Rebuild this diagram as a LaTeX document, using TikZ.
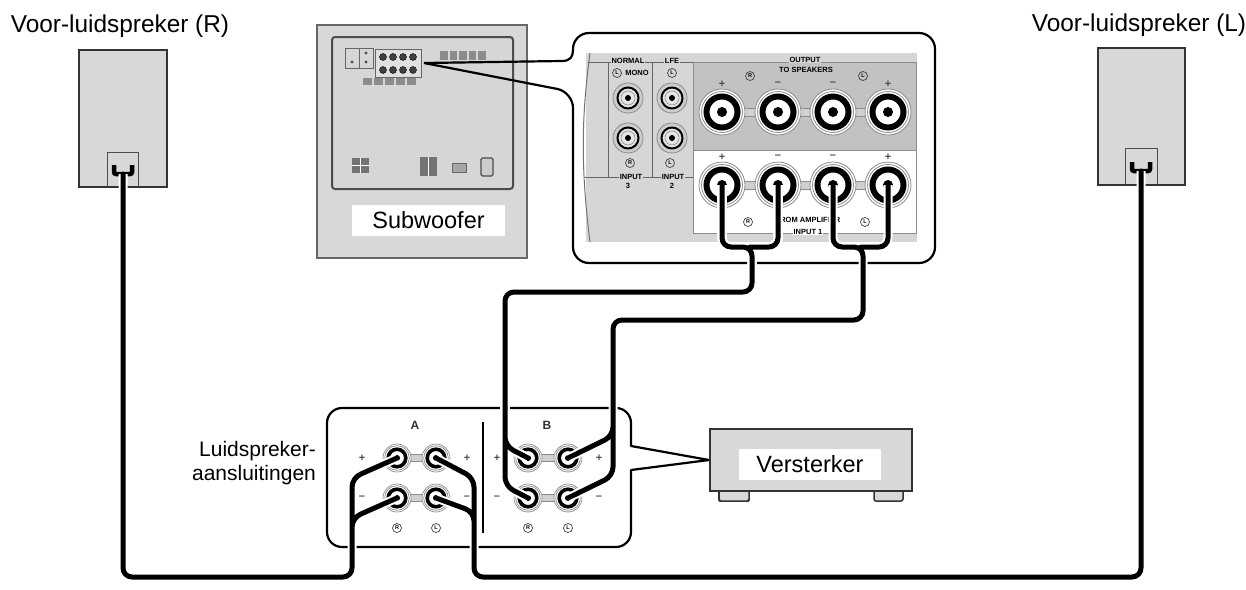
\documentclass[tikz,border=0pt]{standalone}
\usepackage{fontspec}
\setmainfont{Liberation Sans}
\usetikzlibrary{positioning}
\definecolor{boxgray}{HTML}{D8D8D8}
\definecolor{panelgray}{HTML}{D6D6D6}
\definecolor{ringgray}{HTML}{8C8C8C}
\tikzset{
  cable/.style={line width=5pt,line cap=round,line join=round,rounded corners=9pt,
    preaction={draw=white,line width=9pt}},
  callout/.style={line width=2.2pt,line join=round},
  unitbox/.style={draw=black!80,fill=boxgray,line width=1.8pt,inner sep=0pt},
  labelbox/.style={fill=white,inner sep=0pt,minimum height=31pt,font=\fontsize{23.5}{24}\selectfont},
  biglbl/.style={inner sep=0pt,font=\fontsize{24.4}{26}\selectfont},
  tinytxt/.style={inner sep=0.8pt,font=\fontsize{7.5}{7.5}\selectfont\bfseries},
  sign/.style={inner sep=0pt,text=black!70,font=\fontsize{11}{11}\selectfont\bfseries},
  ch/.style={circle,draw=black!75,line width=0.7pt,inner sep=0pt,minimum size=9pt,
    font=\fontsize{5.5}{5.5}\selectfont\bfseries}
}
\newcommand\bigpost[1]{%
  \fill[white] (#1) circle (23pt);
  \draw[ringgray,line width=0.8pt] (#1) circle (23pt) (#1) circle (20.5pt);
  \draw[line width=6pt] (#1) circle (15.5pt);
  \fill (#1) circle (5pt);}
\newcommand\smallpost[1]{%
  \fill[white] (#1) circle (14pt);
  \draw[ringgray,line width=0.7pt] (#1) circle (14pt) (#1) circle (12.3pt);
  \draw[line width=3.6pt] (#1) circle (8.8pt);
  \fill (#1) circle (3pt);}
\newcommand\jack[1]{%
  \draw[ringgray,fill=black!20,line width=0.8pt] (#1) circle (15pt);
  \draw[line width=2pt,fill=black!10] (#1) circle (10.5pt);
  \draw[ringgray,line width=0.6pt] (#1) circle (7pt);
  \fill (#1) circle (3pt);}
\begin{document}
\begin{tikzpicture}[x=1pt,y=-1pt]
  \useasboundingbox (0,0) rectangle (1246,589);
  % speakers
  \node[unitbox,minimum width=88pt,minimum height=137pt] (spkR) at (123,118.5) {};
  \node[unitbox,minimum width=87pt,minimum height=137pt] (spkL) at (1141.5,116.5) {};
  \node[biglbl,anchor=base] at (120,32) {Voor-luidspreker (R)};
  \node[biglbl,anchor=base] at (1139,31) {Voor-luidspreker (L)};
  \draw[black!70,line width=0.8pt] (107,187) |- (138,152) -- (138,187);
  \draw[black!70,line width=0.8pt] (1125,185) |- (1157,148) -- (1157,185);
  \coordinate (tR) at (123,174);
  \coordinate (tL) at (1141,171);
  \draw[line width=4.5pt,rounded corners=2pt] (114,165) -- (114,174) -- (132,174) -- (132,165);
  \draw[line width=4.5pt,rounded corners=2pt] (1132,162) -- (1132,171) -- (1150,171) -- (1150,162);
  % subwoofer
  \node[draw=black!60,fill=boxgray,line width=1.5pt,minimum width=210pt,minimum height=233pt] (sub) at (422,141.5) {};
  \draw[black!70,fill=panelgray,line width=2pt,rounded corners=3pt] (332,37) rectangle (513,189);
  \node[labelbox,minimum width=153pt] (sublbl) at (428.5,220.5) {Subwoofer};
  \draw[black!60,line width=0.6pt] (345,48) rectangle (373,68) (359,48) -- (359,68);
  \foreach \x in {352,366} \fill[black!70] (\x,62) circle (1.6pt);
  \fill[black!70] (366,53) circle (1.6pt);
  \draw[black!60,fill=black!12,line width=0.6pt] (375,49) rectangle (421,77);
  \foreach \x in {383,393,403,413} {
    \draw[fill=black!75] (\x,57) circle (3.5pt);
    \draw[fill=black!75] (\x,70) circle (3.5pt);}
  \foreach \x in {363,374,385,396,407} \fill[black!45] (\x,78) rectangle ++(9,7);
  \foreach \x in {440,449.5,459,468.5,478} \fill[black!45] (\x,51) rectangle ++(7.5,9);
  \fill[black!55] (352,158) rectangle (369,173);
  \draw[white,line width=0.8pt] (352,165.5) -- (369,165.5) (360.5,158) -- (360.5,173);
  \fill[black!55] (420,157) rectangle (437,176);
  \draw[white,line width=0.8pt] (428.5,157) -- (428.5,176);
  \draw[black!60,fill=black!35,line width=0.8pt] (452,163) rectangle (466,172);
  \draw[black!70,fill=black!20,line width=1.2pt,rounded corners=1.5pt] (481,158) rectangle (493,176);
  \coordinate (subtip) at (424,63);
  % close-up of the subwoofer terminals
  \draw[callout] (subtip) -- (562,61) .. controls (570,61) and (573,57) .. (573,50)
    [rounded corners=16pt] -- (573,33) -- (935,33) -- (935,263) -- (573,263) -- (573,92)
    [sharp corners] -- (subtip);
  \fill[panelgray] (586,53) rectangle (917,242);
  \draw[black!55,line width=1pt] (590,53) .. controls (581,120) and (581,170) .. (590,242);
  \draw[black!45,fill=black!24,line width=0.8pt] (693,62) rectangle (916,150);
  \draw[black!45,fill=white,line width=0.8pt] (693,150) rectangle (916,233);
  \draw[black!60,line width=1pt] (588,62) -- (693,62) (585,177) -- (693,177)
    (608,62) -- (608,177) (652,62) -- (652,177);
  \node[tinytxt,fill=panelgray] at (628,61) {NORMAL};
  \node[tinytxt,fill=panelgray] at (672,61) {LFE};
  \node[tinytxt,fill=panelgray] at (805,60) {OUTPUT};
  \node[tinytxt] at (806,70) {TO SPEAKERS};
  \node[ch] at (617,73) {L};
  \node[tinytxt] at (637,73) {MONO};
  \node[ch] at (672,73) {L};
  \jack{628,98} \jack{628,138} \jack{672,98} \jack{672,138}
  \node[ch] at (630,163) {R};
  \node[ch] at (670,163) {L};
  \node[tinytxt,fill=panelgray] at (631,177) {INPUT};
  \node[tinytxt,fill=panelgray] at (673,177) {INPUT};
  \node[tinytxt] at (628,186) {3};
  \node[tinytxt] at (672,186) {2};
  \node[ch] at (750,76) {R};
  \node[ch] at (863,76) {L};
  \node[ch] at (748,222) {R};
  \node[ch] at (865,222) {L};
  \node[tinytxt] at (808,220) {FROM AMPLIFIER};
  \node[tinytxt,fill=white] at (808,232) {INPUT 1};
  \foreach \x/\s in {722/+,778/–,833/–,888/+} {
    \node[sign] at (\x,84) {\s};
    \node[sign] at (\x,157) {\s};}
  \foreach \y in {112,185} {
    \fill[black!18] (722,\y-4) rectangle (888,\y+4);
    \draw[ringgray,line width=0.6pt] (722,\y-4) -- (888,\y-4) (722,\y+4) -- (888,\y+4);}
  \coordinate (so1) at (722,112); \coordinate (so2) at (778,112);
  \coordinate (so3) at (833,112); \coordinate (so4) at (888,112);
  \coordinate (si1) at (722,185); \coordinate (si2) at (778,185);
  \coordinate (si3) at (833,185); \coordinate (si4) at (888,185);
  \foreach \p in {so1,so2,so3,so4,si1,si2,si3,si4} \bigpost{\p}
  % amplifier
  \draw[black!80,fill=boxgray,line width=1.5pt,rounded corners=2pt] (719,488) rectangle (749,501);
  \draw[black!80,fill=boxgray,line width=1.5pt,rounded corners=2pt] (874,488) rectangle (903,501);
  \node[unitbox,line width=2pt,minimum width=202pt,minimum height=62pt] (amp) at (811,460) {};
  \node[labelbox,minimum width=142pt] (amplbl) at (810,464.5) {Versterker};
  \draw[callout] (amp.west) -- (631,446) [rounded corners=15pt] -- (631,408) -- (327,408)
    -- (327,547) -- (631,547) [sharp corners] -- (631,470) -- (amp.west);
  \draw[line width=1.6pt] (483,422) -- (483,533);
  \node[font=\fontsize{21}{24}\selectfont,align=right,inner sep=0pt] (conlbl) at (254,463)
    {Luidspreker-\\aansluitingen};
  \node[sign,font=\fontsize{12}{12}\selectfont\bfseries,text=black!80] at (415,425) {A};
  \node[sign,font=\fontsize{12}{12}\selectfont\bfseries,text=black!80] at (547,425) {B};
  \foreach \x/\l in {362/+,467/+,497/+,599/+} {
    \node[sign] at (\x,458) {\l};
    \node[sign] at (\x,498) {–};}
  \foreach \x/\l in {397/R,436/L,528/R,568/L} \node[ch] at (\x,528) {\l};
  \foreach \y in {458,498} {
    \fill[black!18] (397,\y-3.5) rectangle (436,\y+3.5);
    \fill[black!18] (528,\y-3.5) rectangle (568,\y+3.5);
    \draw[ringgray,line width=0.6pt] (397,\y-3.5) -- (436,\y-3.5) (397,\y+3.5) -- (436,\y+3.5)
      (528,\y-3.5) -- (568,\y-3.5) (528,\y+3.5) -- (568,\y+3.5);}
  \coordinate (aRp) at (397,458); \coordinate (aRm) at (397,498);
  \coordinate (aLp) at (436,458); \coordinate (aLm) at (436,498);
  \coordinate (bRp) at (528,458); \coordinate (bRm) at (528,498);
  \coordinate (bLp) at (568,458); \coordinate (bLm) at (568,498);
  \foreach \p in {aRp,aRm,aLp,aLm,bRp,bRm,bLp,bLm} \smallpost{\p}
  % cables
  \draw[cable] (si1) -- (722,247) -- (752,247) -- (752,292) -- (505,292) -- (505,486) -- (bRm)
    (si2) -- (778,247) -- (750,247)
    (505,420) -- (505,446) -- (bRp);
  \draw[cable] (si3) -- (833,247) -- (863,247) -- (863,320) -- (613,320) -- (613,476) -- (bLm)
    (si4) -- (888,247) -- (861,247)
    (613,410) -- (613,436) -- (bLp);
  \draw[cable] (tR) -- (123,577) -- (352,577) -- (352,478) -- (aRp)
    (352,545) -- (352,518) -- (aRm);
  \draw[cable] (tL) -- (1141,577) -- (474,577) -- (474,478) -- (aLp)
    (474,545) -- (474,512) -- (aLm);
\end{tikzpicture}
\end{document}
